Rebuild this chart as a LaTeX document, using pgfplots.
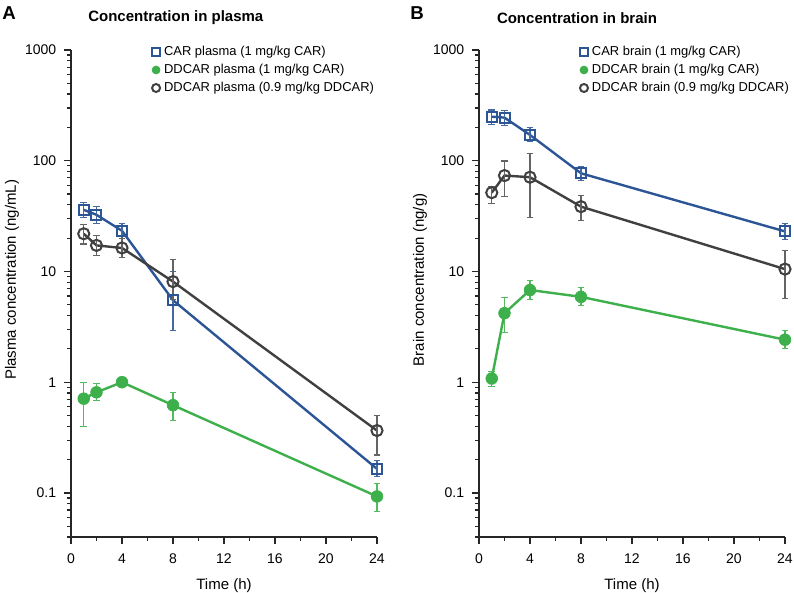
\documentclass[border=0pt]{standalone}
\usepackage{fontspec}
\setmainfont{Liberation Sans}
\usepackage{pgfplots}
\pgfplotsset{compat=1.18}
\usepackage{pgfplotstable}

\definecolor{cblue}{RGB}{44,85,150}
\definecolor{cbluebar}{RGB}{70,105,160}
\definecolor{cgreen}{RGB}{62,176,75}
\definecolor{cgreenbar}{RGB}{85,185,95}
\definecolor{cgray}{RGB}{64,64,64}
\definecolor{cgraybar}{RGB}{100,100,100}

% plasma
\pgfplotstableread{
t y hi lo
1 36 42 30.8
2 32.5 38.4 27.2
4 23.3 27 19.7
8 5.5 10 2.95
24 0.165 0.197 0.14
}\carA
\pgfplotstableread{
t y hi lo
1 0.71 0.99 0.40
2 0.81 0.97 0.68
4 1.0 1.05 0.95
8 0.62 0.81 0.45
24 0.093 0.121 0.068
}\ddA
\pgfplotstableread{
t y hi lo
1 21.9 26.8 17.7
2 17.2 21.1 14
4 16.3 19.7 13.4
8 8.1 12.8 5.6
24 0.366 0.50 0.22
}\ddnA
% brain
\pgfplotstableread{
t y hi lo
1 250 287 213
2 245 283 207
4 171 199 148
8 77 88 66
24 23 27 19.6
}\carB
\pgfplotstableread{
t y hi lo
1 1.08 1.24 0.92
2 4.2 5.8 2.8
4 6.8 8.3 5.6
8 5.9 7.2 4.9
24 2.42 2.91 2.03
}\ddB
\pgfplotstableread{
t y hi lo
1 51.5 58.8 41
2 73.5 99.5 47.5
4 71 116 31
8 38.5 49 29
24 10.5 15.5 5.75
}\ddnB

\pgfplotsset{
  legend image code/.code={\draw[#1, mark size=3pt] plot coordinates {(0pt,0pt)};},
}
\pgfplotsset{
  panelstyle/.style={
    width=229.5pt, height=365.25pt, scale only axis,
    ymin=0.04, ymax=1000, xmin=0, xmax=24,
    axis x line*=bottom, axis y line*=left,
    axis line style={line width=1pt, black!85},
    xtick={0,4,8,12,16,20,24}, xticklabels={0,4,8,12,16,20,24},
    minor xtick={2,6,10,14,18,22},
    ytick={0.1,1,10,100,1000}, yticklabels={0.1,1,10,100,1000},
    minor ytick={0.04,0.05,0.06,0.07,0.08,0.09,0.2,0.3,0.4,0.5,0.6,0.7,0.8,0.9,2,3,4,5,6,7,8,9,20,30,40,50,60,70,80,90,200,300,400,500,600,700,800,900},
    tick align=outside, major tick length=5.6pt, minor tick length=2.8pt,
    every tick/.style={black!85, line width=0.9pt},
    tick label style={font=\fontsize{10.5}{12}\selectfont},
    xticklabel style={yshift=-3.5pt},
    yticklabel style={xshift=-2pt},
    label style={font=\fontsize{11.25}{13}\selectfont},
    xlabel={Time (h)},
    xlabel style={at={(axis description cs:0.5,0)}, anchor=center, yshift=-36.75pt},
    ylabel style={at={(axis description cs:0,0.528)}, anchor=center, yshift=44.25pt},
    legend cell align=left,
    legend style={draw=none, fill=none, anchor=north west, yshift=4.5pt,
      inner sep=0pt, outer sep=0pt, row sep=1.5pt, column sep=2pt,
      nodes={inner sep=1pt, text height=7.5pt, text depth=2.5pt,
        font=\fontsize{9.7}{12}\selectfont}},
    clip=false,
  },
  sq/.style={cblue, line width=1.8pt, mark=square, mark size=3.75pt,
    mark options={fill=white, line width=1.5pt, cblue}},
  gr/.style={cgreen, line width=1.8pt, mark=*, mark size=4.4pt,
    mark options={fill=cgreen, line width=0.5pt, cgreen}},
  ci/.style={cgray, line width=1.8pt, mark=o, mark size=4.2pt,
    mark options={fill=white, line width=1.5pt, cgray}},
}

\begin{document}
\begin{tikzpicture}
\begin{axis}[ymode=log, panelstyle, at={(0pt,0pt)}, anchor=south west,
  ylabel={Plasma concentration (ng/mL)},
  legend style={at={(axis description cs:0.265,1)}}]
\addplot[sq, error bars/y dir=both, error bars/y explicit,
  error bars/error bar style={line width=0.8pt, cbluebar},
  error bars/error mark options={mark size=2.5pt, line width=0.8pt, cbluebar, rotate=90}]
  table[x=t, y=y, y error plus expr=\thisrow{hi}-\thisrow{y}, y error minus expr=\thisrow{y}-\thisrow{lo}] {\carA};
\addlegendentry{CAR plasma (1 mg/kg CAR)}
\addplot[gr, error bars/y dir=both, error bars/y explicit,
  error bars/error bar style={line width=0.8pt, cgreenbar},
  error bars/error mark options={mark size=2.5pt, line width=0.8pt, cgreenbar, rotate=90}]
  table[x=t, y=y, y error plus expr=\thisrow{hi}-\thisrow{y}, y error minus expr=\thisrow{y}-\thisrow{lo}] {\ddA};
\addlegendentry{DDCAR plasma (1 mg/kg CAR)}
\addplot[ci, error bars/y dir=both, error bars/y explicit,
  error bars/error bar style={line width=0.8pt, cgraybar},
  error bars/error mark options={mark size=2.5pt, line width=0.8pt, cgraybar, rotate=90}]
  table[x=t, y=y, y error plus expr=\thisrow{hi}-\thisrow{y}, y error minus expr=\thisrow{y}-\thisrow{lo}] {\ddnA};
\addlegendentry{DDCAR plasma (0.9 mg/kg DDCAR)}
\end{axis}
\begin{axis}[ymode=log, panelstyle, at={(306pt,0pt)}, anchor=south west,
  ylabel={Brain concentration (ng/g)},
  legend style={at={(axis description cs:0.33,1)}}]
\addplot[sq, error bars/y dir=both, error bars/y explicit,
  error bars/error bar style={line width=0.8pt, cbluebar},
  error bars/error mark options={mark size=2.5pt, line width=0.8pt, cbluebar, rotate=90}]
  table[x=t, y=y, y error plus expr=\thisrow{hi}-\thisrow{y}, y error minus expr=\thisrow{y}-\thisrow{lo}] {\carB};
\addlegendentry{CAR brain (1 mg/kg CAR)}
\addplot[gr, error bars/y dir=both, error bars/y explicit,
  error bars/error bar style={line width=0.8pt, cgreenbar},
  error bars/error mark options={mark size=2.5pt, line width=0.8pt, cgreenbar, rotate=90}]
  table[x=t, y=y, y error plus expr=\thisrow{hi}-\thisrow{y}, y error minus expr=\thisrow{y}-\thisrow{lo}] {\ddB};
\addlegendentry{DDCAR brain (1 mg/kg CAR)}
\addplot[ci, error bars/y dir=both, error bars/y explicit,
  error bars/error bar style={line width=0.8pt, cgraybar},
  error bars/error mark options={mark size=2.5pt, line width=0.8pt, cgraybar, rotate=90}]
  table[x=t, y=y, y error plus expr=\thisrow{hi}-\thisrow{y}, y error minus expr=\thisrow{y}-\thisrow{lo}] {\ddnB};
\addlegendentry{DDCAR brain (0.9 mg/kg DDCAR)}
\end{axis}
\node[font=\bfseries\fontsize{14}{14}\selectfont] at (-46.5pt,393pt) {A};
\node[font=\bfseries\fontsize{14}{14}\selectfont] at (259.5pt,393pt) {B};
\node[font=\bfseries\fontsize{11.25}{13}\selectfont, anchor=west, inner sep=0pt] at (12.75pt,389.25pt) {Concentration in plasma};
\node[font=\bfseries\fontsize{11.25}{13}\selectfont, anchor=west, inner sep=0pt] at (319.3pt,389.25pt) {Concentration in brain};
\pgfresetboundingbox
\path[use as bounding box] (-53.25pt,-42pt) rectangle (542.25pt,402.75pt);
\end{tikzpicture}
\end{document}
